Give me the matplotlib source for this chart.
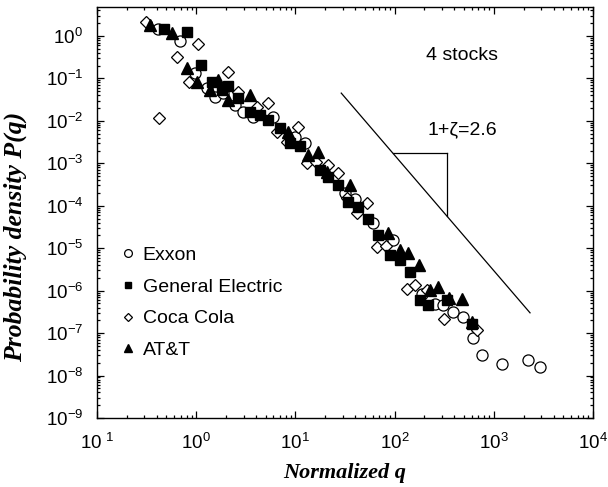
import numpy as np
from matplotlib import pyplot as plt
from matplotlib import ticker

plt.rcParams['font.family'] = ['Liberation Sans', 'DejaVu Sans']
plt.rcParams['mathtext.default'] = 'regular'

# Exxon (open circles)
exxon_q = [0.412, 0.687, 0.973, 1.28, 1.55, 1.86, 2.46, 2.98, 3.77, 5.98,
           9.9, 12.5, 31.6, 39.9, 61, 97, 188, 255, 310, 385,
           493, 612, 755, 1200, 2230, 2920]
exxon_p = [1.44, 0.775, 0.132, 0.0585, 0.037, 0.0453, 0.0236, 0.0164, 0.0125, 0.0125,
           0.00422, 0.00294, 1.95e-4, 1.41e-4, 3.83e-5, 1.54e-5, 8.55e-7, 4.96e-7, 4.53e-7, 3.15e-7,
           2.40e-7, 7.8e-8, 3.0e-8, 1.9e-8, 2.28e-8, 1.58e-8]

# General Electric (filled squares)
ge_q = [0.473, 0.80, 1.11, 1.43, 1.81, 2.11, 2.66, 3.49, 4.40, 5.33,
        7.0, 8.83, 11.1, 17.7, 21.5, 27.1, 34.1, 43.1, 54.3, 68.5,
        89.9, 113, 143, 180, 219, 340, 598]
ge_p = [1.44, 1.26, 0.207, 0.0836, 0.0533, 0.0662, 0.0339, 0.0164, 0.0137, 0.0104,
        0.00665, 0.00294, 0.00255, 6.9e-4, 4.8e-4, 3.06e-4, 1.24e-4, 9.4e-5, 5.0e-5, 2.03e-5,
        6.8e-6, 5.2e-6, 2.76e-6, 5.9e-7, 4.53e-7, 5.9e-7, 1.68e-7]

# Coca Cola (open diamonds)
coke_q = [0.312, 0.635, 1.05, 0.851, 2.11, 2.66, 4.07, 5.33, 0.425, 10.7,
          6.48, 8.17, 13.0, 16.1, 21.5, 27.1, 32.9, 53.1, 41.5, 66,
          81.9, 132, 161, 212, 315, 673]
coke_p = [2.17, 0.325, 0.637, 0.0836, 0.144, 0.0486, 0.0215, 0.0267, 0.0118, 0.00726,
          0.00553, 0.00321, 9.95e-4, 1.08e-3, 9.07e-4, 5.78e-4, 1.49e-4, 1.13e-4, 6.6e-5, 1.07e-5,
          1.1e-5, 1.12e-6, 1.34e-6, 1.02e-6, 2.2e-7, 1.16e-7]

# AT&T (filled triangles)
att_q = [0.342, 0.566, 0.80, 1.03, 1.38, 1.67, 2.11, 3.49, 8.48, 13.5,
         17.0, 20.7, 35.5, 86.5, 113, 137, 177, 228, 276, 356,
         474, 598]
att_p = [1.82, 1.20, 0.173, 0.0836, 0.0533, 0.0917, 0.031, 0.0406, 0.00553, 0.00156,
         0.00187, 6.3e-4, 3.06e-4, 2.22e-5, 8.97e-6, 7.5e-6, 3.97e-6, 1.02e-6, 1.22e-6, 6.6e-7,
         6.5e-7, 1.8e-7]

# guide line with slope 1+zeta = 2.6
guide_q = [29, 2320]
guide_p = [0.045, 3e-7]
step_q = [96, 337]
step_p = 1.74e-3

x_ticks = [1e-1, 1e0, 1e1, 1e2, 1e3, 1e4]
x_labels = ['$10^{\\ 1}$', '$10^{0}$', '$10^{1}$', '$10^{2}$', '$10^{3}$', '$10^{4}$']
y_ticks = [10.0 ** k for k in range(-9, 1)]

fig = plt.figure(figsize=(6.08, 4.87), dpi=100)
ax = fig.add_axes([0.1595, 0.1417, 0.8158, 0.8439])

ax.plot(exxon_q, exxon_p, linestyle='none', marker='o', markersize=8,
        markerfacecolor='white', markeredgecolor='black', markeredgewidth=0.9,
        label='Exxon', zorder=3)
ax.plot(ge_q, ge_p, linestyle='none', marker='s', markersize=7,
        color='black', label='General Electric', zorder=4)
ax.plot(coke_q, coke_p, linestyle='none', marker='D', markersize=6,
        markerfacecolor='white', markeredgecolor='black', markeredgewidth=0.9,
        label='Coca Cola', zorder=3)
ax.plot(att_q, att_p, linestyle='none', marker='^', markersize=8,
        color='black', label='AT&T', zorder=4)

# guide line and slope triangle
ax.plot(guide_q, guide_p, color='black', linewidth=0.9)
lq = np.log10(guide_q)
lp = np.log10(guide_p)
p_end = 10 ** np.interp(np.log10(step_q[1]), lq, lp)
ax.plot([step_q[0], step_q[1]], [step_p, step_p], color='black', linewidth=0.9)
ax.plot([step_q[1], step_q[1]], [step_p, p_end], color='black', linewidth=0.9)

ax.text(478, 6.1e-3, '1+ζ=2.6', fontsize=14, ha='center', va='center')
ax.text(478, 0.34, '4 stocks', fontsize=14, ha='center', va='center')

ax.set_xscale('log')
ax.set_yscale('log')
ax.set_xlim(1e-1, 1e4)
ax.set_ylim(1e-9, 4.8)

ax.xaxis.set_major_locator(ticker.FixedLocator(x_ticks))
ax.xaxis.set_major_formatter(ticker.FixedFormatter(x_labels))
ax.xaxis.set_minor_locator(ticker.LogLocator(base=10, subs=np.arange(2, 10), numticks=20))
ax.xaxis.set_minor_formatter(ticker.NullFormatter())
ax.yaxis.set_major_locator(ticker.FixedLocator(y_ticks))
ax.yaxis.set_major_formatter(ticker.LogFormatterMathtext())
ax.yaxis.set_minor_locator(ticker.LogLocator(base=10, subs=np.arange(2, 10), numticks=20))
ax.yaxis.set_minor_formatter(ticker.NullFormatter())

ax.tick_params(which='both', direction='in', top=True, right=True, width=0.9)
ax.tick_params(which='major', length=5, labelsize=13.5)
ax.tick_params(which='minor', length=2.5)
ax.tick_params(axis='x', which='major', pad=11)
ax.tick_params(axis='y', which='major', pad=10)
for sp in ax.spines.values():
    sp.set_linewidth(1.0)

ax.set_xlabel('Normalized q', family='Liberation Serif', fontsize=16,
              fontweight='bold', fontstyle='italic', labelpad=7)
ax.set_ylabel('Probability density P(q)', family='Liberation Serif', fontsize=18.5,
              fontweight='bold', fontstyle='italic')
ax.yaxis.set_label_coords(-0.141, 0.44)

ax.legend(loc='lower left', bbox_to_anchor=(0.012, 0.096), frameon=False,
          fontsize=14, markerscale=0.7, handlelength=0.6, handletextpad=0.45,
          labelspacing=0.72, borderaxespad=0.6)

fig.savefig('out.png', dpi=100)
